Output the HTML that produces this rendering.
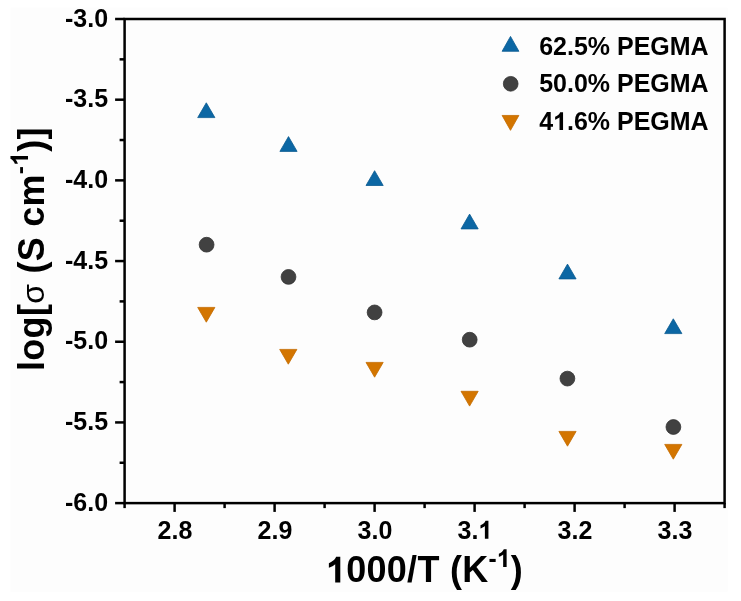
<!DOCTYPE html>
<html><head><meta charset="utf-8"><style>
html,body{margin:0;padding:0;background:#fff;}
svg{display:block;}
text{font-family:"Liberation Sans",sans-serif;font-weight:bold;fill:#000;}
.t{font-size:25px;}
.lg{font-size:25px;}
.ti{font-size:36px;letter-spacing:0.27px;}
.sup{font-size:24.5px;}
.sig{font-weight:normal;font-size:32px;}
.one{fill-opacity:0;}
text{filter:grayscale(1);}
</style></head><body>
<svg width="741" height="601" viewBox="0 0 741 601">
<rect x="10.4" y="7.6" width="717.3" height="584.3" fill="#fdfdfd"/>
<rect x="124.60" y="19.00" width="600.00" height="484.11" fill="none" stroke="#000" stroke-width="2.5"/>
<line x1="115.10" y1="19.00" x2="124.60" y2="19.00" stroke="#000" stroke-width="2.5"/>
<line x1="115.10" y1="99.69" x2="124.60" y2="99.69" stroke="#000" stroke-width="2.5"/>
<line x1="115.10" y1="180.37" x2="124.60" y2="180.37" stroke="#000" stroke-width="2.5"/>
<line x1="115.10" y1="261.06" x2="124.60" y2="261.06" stroke="#000" stroke-width="2.5"/>
<line x1="115.10" y1="341.74" x2="124.60" y2="341.74" stroke="#000" stroke-width="2.5"/>
<line x1="115.10" y1="422.43" x2="124.60" y2="422.43" stroke="#000" stroke-width="2.5"/>
<line x1="115.10" y1="503.11" x2="124.60" y2="503.11" stroke="#000" stroke-width="2.5"/>
<line x1="119.60" y1="59.34" x2="124.60" y2="59.34" stroke="#000" stroke-width="2.5"/>
<line x1="119.60" y1="140.03" x2="124.60" y2="140.03" stroke="#000" stroke-width="2.5"/>
<line x1="119.60" y1="220.71" x2="124.60" y2="220.71" stroke="#000" stroke-width="2.5"/>
<line x1="119.60" y1="301.40" x2="124.60" y2="301.40" stroke="#000" stroke-width="2.5"/>
<line x1="119.60" y1="382.08" x2="124.60" y2="382.08" stroke="#000" stroke-width="2.5"/>
<line x1="119.60" y1="462.77" x2="124.60" y2="462.77" stroke="#000" stroke-width="2.5"/>
<line x1="174.60" y1="503.11" x2="174.60" y2="511.91" stroke="#000" stroke-width="2.5"/>
<line x1="274.60" y1="503.11" x2="274.60" y2="511.91" stroke="#000" stroke-width="2.5"/>
<line x1="374.60" y1="503.11" x2="374.60" y2="511.91" stroke="#000" stroke-width="2.5"/>
<line x1="474.60" y1="503.11" x2="474.60" y2="511.91" stroke="#000" stroke-width="2.5"/>
<line x1="574.60" y1="503.11" x2="574.60" y2="511.91" stroke="#000" stroke-width="2.5"/>
<line x1="674.60" y1="503.11" x2="674.60" y2="511.91" stroke="#000" stroke-width="2.5"/>
<line x1="124.60" y1="503.11" x2="124.60" y2="508.11" stroke="#000" stroke-width="2.5"/>
<line x1="224.60" y1="503.11" x2="224.60" y2="508.11" stroke="#000" stroke-width="2.5"/>
<line x1="324.60" y1="503.11" x2="324.60" y2="508.11" stroke="#000" stroke-width="2.5"/>
<line x1="424.60" y1="503.11" x2="424.60" y2="508.11" stroke="#000" stroke-width="2.5"/>
<line x1="524.60" y1="503.11" x2="524.60" y2="508.11" stroke="#000" stroke-width="2.5"/>
<line x1="624.60" y1="503.11" x2="624.60" y2="508.11" stroke="#000" stroke-width="2.5"/>
<line x1="724.60" y1="503.11" x2="724.60" y2="508.11" stroke="#000" stroke-width="2.5"/>
<g transform="translate(0,26.70) scale(1,1.04) translate(0,-26.70)"><text x="108.1" y="26.70" text-anchor="end" class="t">-3.0</text></g>
<g transform="translate(0,107.39) scale(1,1.04) translate(0,-107.39)"><text x="108.1" y="107.39" text-anchor="end" class="t">-3.5</text></g>
<g transform="translate(0,188.07) scale(1,1.04) translate(0,-188.07)"><text x="108.1" y="188.07" text-anchor="end" class="t">-4.0</text></g>
<g transform="translate(0,268.75) scale(1,1.04) translate(0,-268.75)"><text x="108.1" y="268.75" text-anchor="end" class="t">-4.5</text></g>
<g transform="translate(0,349.44) scale(1,1.04) translate(0,-349.44)"><text x="108.1" y="349.44" text-anchor="end" class="t">-5.0</text></g>
<g transform="translate(0,430.12) scale(1,1.04) translate(0,-430.12)"><text x="108.1" y="430.12" text-anchor="end" class="t">-5.5</text></g>
<g transform="translate(0,510.81) scale(1,1.04) translate(0,-510.81)"><text x="108.1" y="510.81" text-anchor="end" class="t">-6.0</text></g>
<g transform="translate(0,538.70) scale(1,1.04) translate(0,-538.70)"><text x="175.00" y="538.7" text-anchor="middle" class="t">2.8</text></g>
<g transform="translate(0,538.70) scale(1,1.04) translate(0,-538.70)"><text x="275.00" y="538.7" text-anchor="middle" class="t">2.9</text></g>
<g transform="translate(0,538.70) scale(1,1.04) translate(0,-538.70)"><text x="375.00" y="538.7" text-anchor="middle" class="t">3.0</text></g>
<g transform="translate(0,538.70) scale(1,1.04) translate(0,-538.70)"><text x="475.00" y="538.7" text-anchor="middle" class="t">3.<tspan class="one">1</tspan></text></g>
<g transform="translate(0,538.70) scale(1,1.04) translate(0,-538.70)"><text x="575.00" y="538.7" text-anchor="middle" class="t">3.2</text></g>
<g transform="translate(0,538.70) scale(1,1.04) translate(0,-538.70)"><text x="675.00" y="538.7" text-anchor="middle" class="t">3.3</text></g>
<g transform="translate(0,582.50) scale(1,1.04) translate(0,-582.50)"><text x="424.5" y="582.5" text-anchor="middle" class="ti"><tspan class="one">1</tspan>000/T (K<tspan class="sup" dy="-15">-<tspan class="one">1</tspan></tspan><tspan dy="15">)</tspan></text></g>
<g><text transform="translate(43.5,249.1) rotate(-90)" text-anchor="middle" class="ti">log[<tspan class="sig">σ</tspan> (S cm<tspan class="sup" dy="-15.5">-<tspan class="one">1</tspan></tspan><tspan dy="15.5">)]</tspan></text></g>
<polygon points="206.30,102.80 214.90,117.60 197.70,117.60" fill="#0c67a4" stroke="#0a5a90" stroke-width="0.8" stroke-linejoin="miter"/>
<polygon points="288.50,136.60 297.10,151.40 279.90,151.40" fill="#0c67a4" stroke="#0a5a90" stroke-width="0.8" stroke-linejoin="miter"/>
<polygon points="374.60,170.70 383.20,185.50 366.00,185.50" fill="#0c67a4" stroke="#0a5a90" stroke-width="0.8" stroke-linejoin="miter"/>
<polygon points="469.60,214.10 478.20,228.90 461.00,228.90" fill="#0c67a4" stroke="#0a5a90" stroke-width="0.8" stroke-linejoin="miter"/>
<polygon points="567.50,264.10 576.10,278.90 558.90,278.90" fill="#0c67a4" stroke="#0a5a90" stroke-width="0.8" stroke-linejoin="miter"/>
<polygon points="673.30,318.80 681.90,333.60 664.70,333.60" fill="#0c67a4" stroke="#0a5a90" stroke-width="0.8" stroke-linejoin="miter"/>
<circle cx="206.60" cy="244.70" r="7.40" fill="#414141" stroke="#333333" stroke-width="0.8"/>
<circle cx="288.50" cy="276.90" r="7.40" fill="#414141" stroke="#333333" stroke-width="0.8"/>
<circle cx="374.60" cy="312.40" r="7.40" fill="#414141" stroke="#333333" stroke-width="0.8"/>
<circle cx="469.70" cy="339.70" r="7.40" fill="#414141" stroke="#333333" stroke-width="0.8"/>
<circle cx="567.40" cy="378.60" r="7.40" fill="#414141" stroke="#333333" stroke-width="0.8"/>
<circle cx="673.40" cy="427.00" r="7.40" fill="#414141" stroke="#333333" stroke-width="0.8"/>
<polygon points="197.70,307.40 214.90,307.40 206.30,322.20" fill="#d37500" stroke="#c46c00" stroke-width="0.8"/>
<polygon points="279.70,349.40 296.90,349.40 288.30,364.20" fill="#d37500" stroke="#c46c00" stroke-width="0.8"/>
<polygon points="366.00,362.40 383.20,362.40 374.60,377.20" fill="#d37500" stroke="#c46c00" stroke-width="0.8"/>
<polygon points="461.00,391.30 478.20,391.30 469.60,406.10" fill="#d37500" stroke="#c46c00" stroke-width="0.8"/>
<polygon points="558.90,431.40 576.10,431.40 567.50,446.20" fill="#d37500" stroke="#c46c00" stroke-width="0.8"/>
<polygon points="664.70,444.40 681.90,444.40 673.30,459.20" fill="#d37500" stroke="#c46c00" stroke-width="0.8"/>
<polygon points="510.50,36.40 518.90,51.30 502.10,51.30" fill="#0c67a4" stroke="#0a5a90" stroke-width="0.8" stroke-linejoin="miter"/>
<circle cx="510.70" cy="83.80" r="7.35" fill="#414141" stroke="#333333" stroke-width="0.8"/>
<polygon points="502.10,115.45 518.90,115.45 510.50,130.35" fill="#d37500" stroke="#c46c00" stroke-width="0.8"/>
<g transform="translate(0,54.80) scale(1,1.04) translate(0,-54.80)"><text x="539.2" y="54.80" class="lg">62.5% PEGMA</text></g>
<g transform="translate(0,92.50) scale(1,1.04) translate(0,-92.50)"><text x="539.2" y="92.50" class="lg">50.0% PEGMA</text></g>
<g transform="translate(0,130.10) scale(1,1.04) translate(0,-130.10)"><text x="539.2" y="130.10" class="lg">4<tspan class="one">1</tspan>.6% PEGMA</text></g>
<path d="M 815 0 L 525 0 L 525 1045 C 445 970 315 895 165 845 L 165 1100 C 245 1125 335 1175 415 1245 C 495 1315 548 1385 578 1466 L 815 1466 Z" transform="translate(0,538.70) scale(1,1.04) translate(0,-538.70) translate(478.477,538.700) scale(0.012207,-0.011738)" fill="#000"/>
<path d="M 815 0 L 525 0 L 525 1045 C 445 970 315 895 165 845 L 165 1100 C 245 1125 335 1175 415 1245 C 495 1315 548 1385 578 1466 L 815 1466 Z" transform="translate(0,582.50) scale(1,1.04) translate(0,-582.50) translate(325.967,582.500) scale(0.017578,-0.016902)" fill="#000"/>
<path d="M 815 0 L 525 0 L 525 1045 C 445 970 315 895 165 845 L 165 1100 C 245 1125 335 1175 415 1245 C 495 1315 548 1385 578 1466 L 815 1466 Z" transform="translate(0,582.50) scale(1,1.04) translate(0,-582.50) translate(496.874,567.500) scale(0.011963,-0.011503)" fill="#000"/>
<path d="M 815 0 L 525 0 L 525 1045 C 445 970 315 895 165 845 L 165 1100 C 245 1125 335 1175 415 1245 C 495 1315 548 1385 578 1466 L 815 1466 Z" transform="translate(43.5,249.1) rotate(-90) translate(83.375,-15.500) scale(0.011963,-0.011963)" fill="#000"/>
<path d="M 815 0 L 525 0 L 525 1045 C 445 970 315 895 165 845 L 165 1100 C 245 1125 335 1175 415 1245 C 495 1315 548 1385 578 1466 L 815 1466 Z" transform="translate(0,130.10) scale(1,1.04) translate(0,-130.10) translate(553.107,130.100) scale(0.012207,-0.011738)" fill="#000"/>
</svg>
</body></html>
